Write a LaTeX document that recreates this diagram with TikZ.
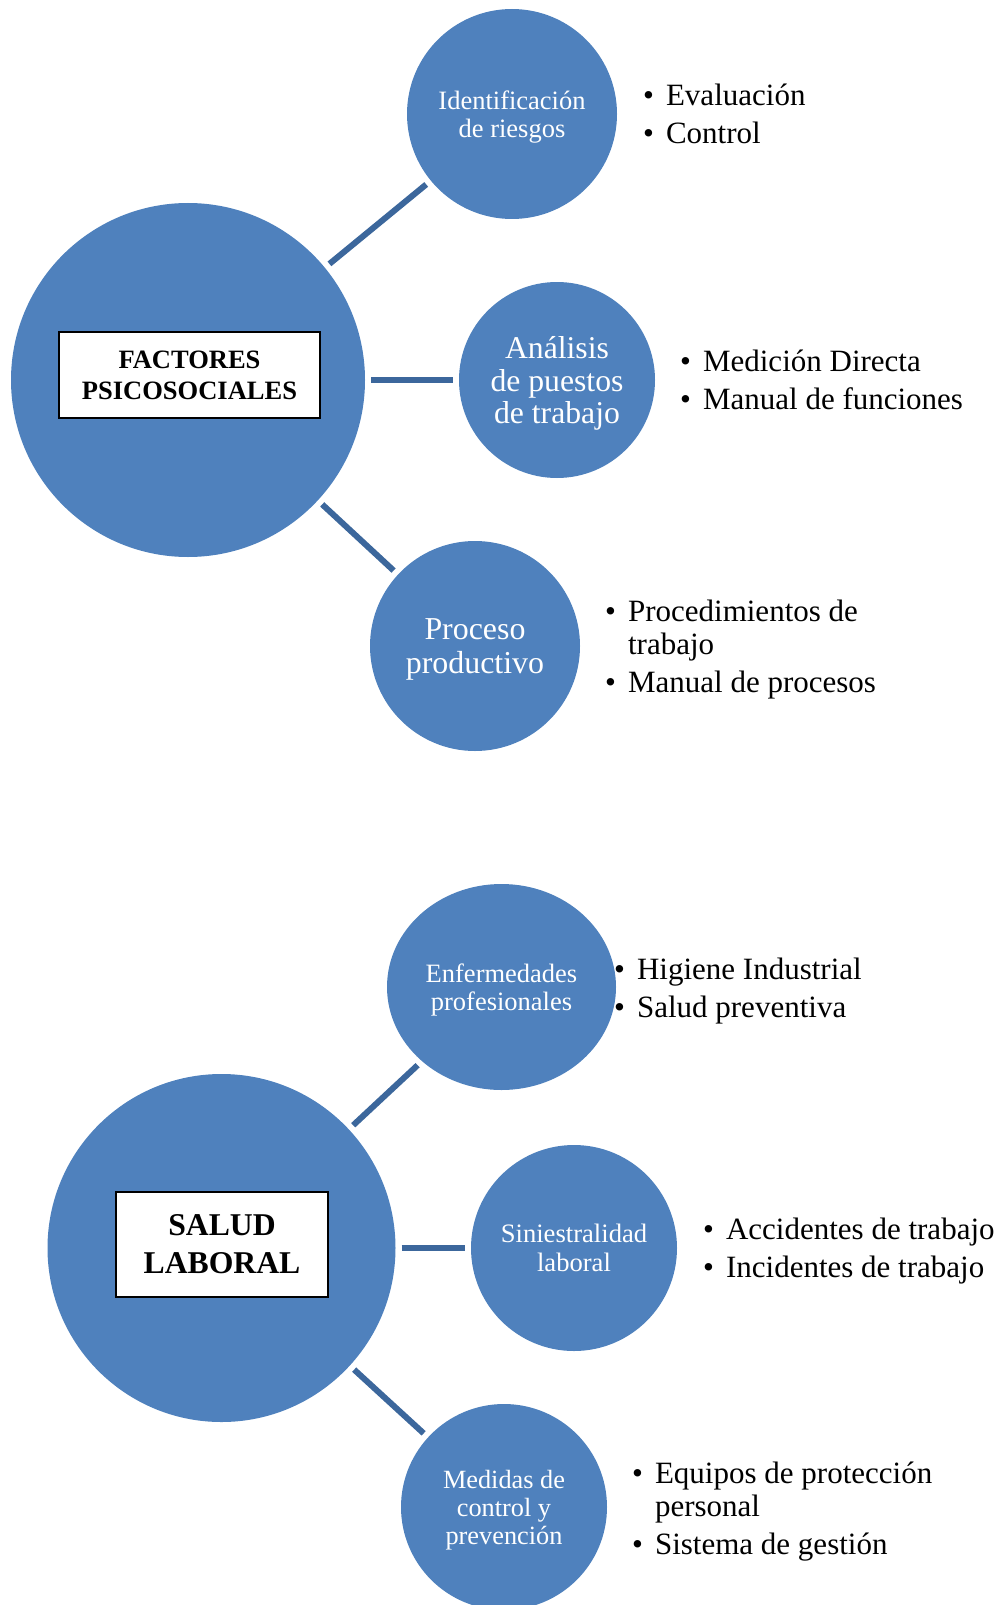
\documentclass[tikz,border=0pt]{standalone}
\usepackage{fontspec}
\setmainfont{Liberation Serif}
\usetikzlibrary{shapes.geometric}
\definecolor{bubbleblue}{RGB}{79,129,189}
\definecolor{linkblue}{RGB}{60,103,156}

\begin{document}
\begin{tikzpicture}[x=1pt,y=-1pt]
\tikzstyle{hub}= [circle,fill=bubbleblue,inner sep=0pt,outer sep=0pt]
\tikzstyle{sub}= [circle,fill=bubbleblue,text=white,align=center,inner sep=0pt,outer sep=0pt,text depth=0pt]
\tikzstyle{tag}= [rectangle,draw=black,line width=2pt,fill=white,align=center]
\tikzstyle{link}= [draw=linkblue,line width=6pt,shorten >=6pt,shorten <=6pt]
\tikzstyle{items}= [anchor=west,inner sep=0pt,font=\fontsize{31}{33}\selectfont]

\useasboundingbox (0,0) rectangle (1006,1605);

% factores psicosociales
\path
	(188,380) node[hub,minimum size=354pt] (fp) {}
	(512,114) node[sub,minimum size=210pt,font=\fontsize{26.5}{27.6}\selectfont] (idr) {Identificación\\de riesgos}
	(557,380) node[sub,minimum size=196pt,font=\fontsize{31.7}{32.5}\selectfont] (apt) {Análisis\\de puestos\\de trabajo}
	(475,646) node[sub,minimum size=210pt,font=\fontsize{31.9}{34}\selectfont] (ppr) {Proceso\\productivo}
;
\node[tag,minimum width=261pt,minimum height=86pt,font=\bfseries\fontsize{26.5}{31}\selectfont] (fpbox) at (189.5,375) {FACTORES\\PSICOSOCIALES};
\draw[link] (fp) -- (idr);
\draw[link] (fp) -- (apt);
\draw[link] (fp) -- (ppr);
\node[items] (idrlist) at (643,118) {\begin{tabular}{@{}l@{\hspace{12pt}}l@{}}\textbullet & Evaluación\\[5pt] \textbullet & Control\end{tabular}};
\node[items] (aptlist) at (680,384) {\begin{tabular}{@{}l@{\hspace{12pt}}l@{}}\textbullet & Medición Directa\\[5pt] \textbullet & Manual de funciones\end{tabular}};
\node[items] (pprlist) at (605,650) {\begin{tabular}{@{}l@{\hspace{12pt}}l@{}}\textbullet & Procedimientos de\\ & trabajo\\[5pt] \textbullet & Manual de procesos\end{tabular}};

% salud laboral
\path
	(221.5,1248) node[hub,minimum size=348pt] (sl) {}
	(501.5,987) node[sub,ellipse,minimum width=229pt,minimum height=206pt,font=\fontsize{26.5}{28.6}\selectfont] (enf) {Enfermedades\\profesionales}
	(574,1248) node[sub,minimum size=206pt,font=\fontsize{26.6}{28.7}\selectfont] (sin) {Siniestralidad\\laboral}
	(504,1507) node[sub,minimum size=206pt,font=\fontsize{26.3}{28}\selectfont] (mcp) {Medidas de\\control y\\prevención}
;
\node[tag,minimum width=212pt,minimum height=105pt,font=\bfseries\fontsize{31.7}{38}\selectfont] (slbox) at (222,1244) {SALUD\\LABORAL};
\draw[link] (sl) -- (enf);
\draw[link] (sl) -- (sin);
\draw[link] (sl) -- (mcp);
\node[items] (enflist) at (614,992) {\begin{tabular}{@{}l@{\hspace{12pt}}l@{}}\textbullet & Higiene Industrial\\[5pt] \textbullet & Salud preventiva\end{tabular}};
\node[items] (sinlist) at (703,1252) {\begin{tabular}{@{}l@{\hspace{12pt}}l@{}}\textbullet & Accidentes de trabajo\\[5pt] \textbullet & Incidentes de trabajo\end{tabular}};
\node[items] (mcplist) at (632,1512) {\begin{tabular}{@{}l@{\hspace{12pt}}l@{}}\textbullet & Equipos de protección\\ & personal\\[5pt] \textbullet & Sistema de gestión\end{tabular}};
\end{tikzpicture}
\end{document}
